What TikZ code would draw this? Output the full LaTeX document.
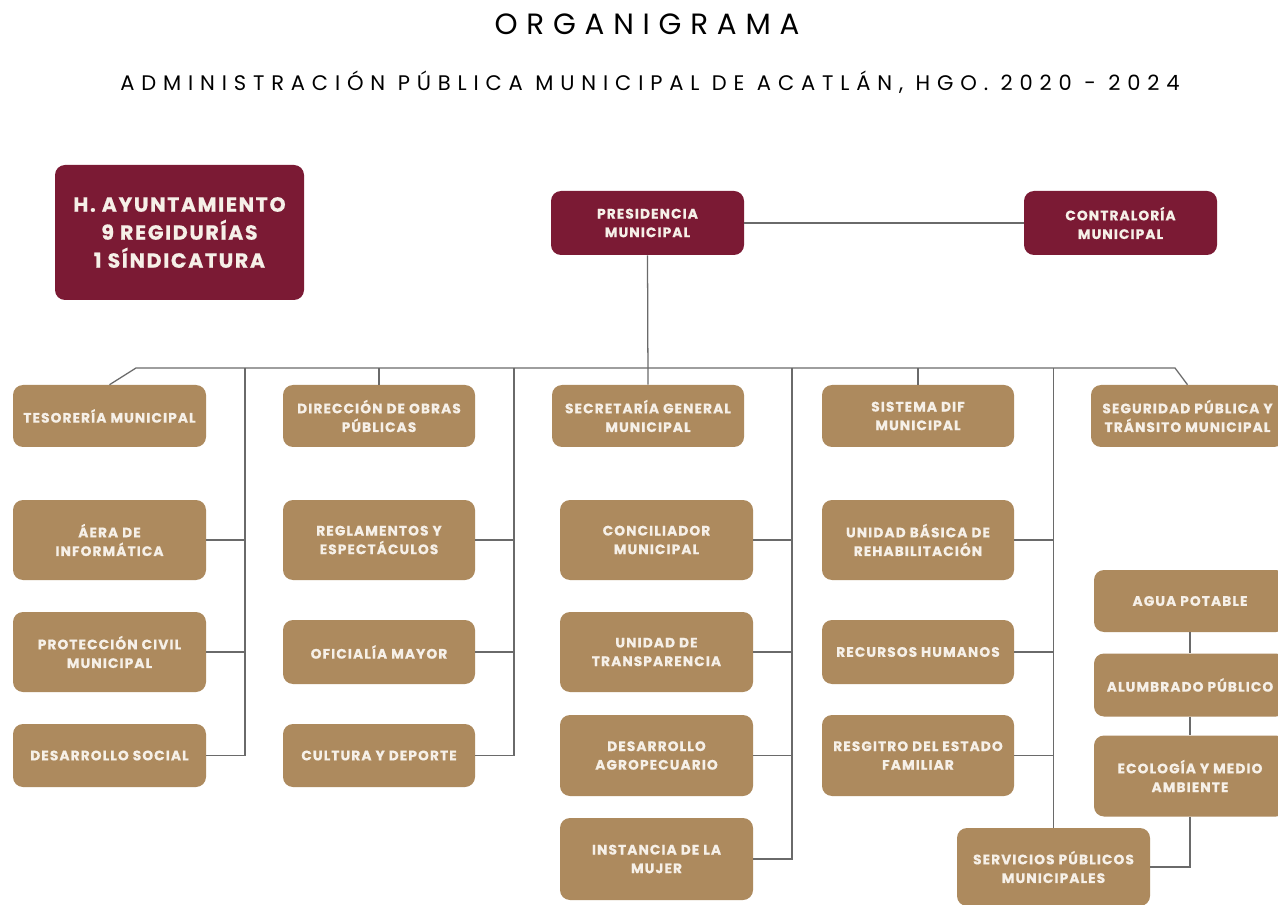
\documentclass[tikz,border=0pt]{standalone}
\usepackage{fontspec}
\setmainfont{Poppins}
\newfontfamily\titlefont{Poppins}[LetterSpace=30]
\newfontfamily\subfont{Poppins}[LetterSpace=32.5]
\newfontfamily\boxfont{Poppins}[LetterSpace=8, BoldFeatures={FakeBold=0.6}]
\definecolor{maroon}{HTML}{7B1A34}
\definecolor{gold}{HTML}{AD8A5E}
\definecolor{cream}{HTML}{F6F0E8}
\definecolor{wire}{HTML}{6A6A6A}
\begin{document}
\begin{tikzpicture}[x=0.75pt,y=-0.75pt,
  unit/.style={rounded corners=7.5pt, align=center, inner sep=0pt, text=cream,
    font=\boxfont\bfseries\fontsize{10.3}{14}\selectfont},
  gbox/.style={unit, fill=gold},
  mbox/.style={unit, fill=maroon},
  sz/.style n args={2}{minimum width=#1*0.75pt, minimum height=#2*0.75pt},
  wire/.style={draw=wire, line width=0.95pt}]
\fill[white] (0,0) rectangle (1278,905);
\useasboundingbox (0,0) rectangle (1278,905);

% titles
\node (title) at (647,24) {\titlefont\fontsize{22}{24}\selectfont ORGANIGRAMA};
\node (subtitle) at (650,82) {\subfont\fontsize{15.8}{18}\selectfont ADMINISTRACIÓN PÚBLICA MUNICIPAL DE ACATLÁN, HGO. 2020 - 2024};

% top level
\node[mbox, sz={249}{135}, font=\boxfont\bfseries\fontsize{15.4}{21}\selectfont] (ayto) at (179.5,232.5) {H. AYUNTAMIENTO\\9 REGIDURÍAS\\1 SÍNDICATURA};
\node[mbox, sz={193}{64}] (pres) at (647.5,223) {PRESIDENCIA\\MUNICIPAL};
\node[mbox, sz={193}{64}] (contra) at (1120.5,223) {CONTRALORÍA\\MUNICIPAL};

% first row
\node[gbox, sz={193}{62}] (teso) at (109.5,416) {TESORERÍA MUNICIPAL};
\node[gbox, sz={192}{62}] (obras) at (379,416) {DIRECCIÓN DE OBRAS\\PÚBLICAS};
\node[gbox, sz={192}{62}] (secre) at (648,416) {SECRETARÍA GENERAL\\MUNICIPAL};
\node[gbox, sz={192}{62}] (dif) at (918,416) {SISTEMA DIF\\MUNICIPAL};
\node[gbox, sz={193}{62}] (segu) at (1187.5,416) {SEGURIDAD PÚBLICA Y\\TRÁNSITO MUNICIPAL};

% column 1
\node[gbox, sz={193}{80}] (area) at (109.5,540) {ÁERA DE\\INFORMÁTICA};
\node[gbox, sz={193}{80}] (prot) at (109.5,652) {PROTECCIÓN CIVIL\\MUNICIPAL};
\node[gbox, sz={193}{63}] (dsoc) at (109.5,755.5) {DESARROLLO SOCIAL};

% column 2
\node[gbox, sz={192}{80}] (regl) at (379,540) {REGLAMENTOS Y\\ESPECTÁCULOS};
\node[gbox, sz={192}{64}] (ofic) at (379,652) {OFICIALÍA MAYOR};
\node[gbox, sz={192}{63}] (cult) at (379,755.5) {CULTURA Y DEPORTE};

% column 3
\node[gbox, sz={193}{80}] (conc) at (656.5,540) {CONCILIADOR\\MUNICIPAL};
\node[gbox, sz={193}{80}] (transp) at (656.5,652) {UNIDAD DE\\TRANSPARENCIA};
\node[gbox, sz={193}{81}] (agro) at (656.5,755.5) {DESARROLLO\\AGROPECUARIO};
\node[gbox, sz={193}{82}] (mujer) at (656.5,859) {INSTANCIA DE LA\\MUJER};

% column 4
\node[gbox, sz={192}{80}] (ubr) at (918,540) {UNIDAD BÁSICA DE\\REHABILITACIÓN};
\node[gbox, sz={192}{64}] (rh) at (918,652) {RECURSOS HUMANOS};
\node[gbox, sz={192}{81}] (reg) at (918,755.5) {RESGITRO DEL ESTADO\\FAMILIAR};

% column 5
\node[gbox, sz={193}{78}] (serv) at (1053.5,867) {SERVICIOS PÚBLICOS\\MUNICIPALES};
\node[gbox, sz={192}{62}] (agua) at (1190,601) {AGUA POTABLE};
\node[gbox, sz={192}{63}] (alum) at (1190,685) {ALUMBRADO PÚBLICO};
\node[gbox, sz={192}{81}] (eco) at (1190,776) {ECOLOGÍA Y MEDIO\\AMBIENTE};

% bus coordinates
\coordinate (busL) at (136,368);
\coordinate (busR) at (1175,368);
\coordinate (s1) at (245,368);
\coordinate (s2) at (514,368);
\coordinate (s3) at (792,368);

% connectors
\draw[wire] (pres.east) -- (contra.west);
\draw[wire] (pres.south) -- (secre.north);
\draw[wire] (teso.north) -- (busL) -- (busR) -- (segu.north);
\draw[wire] (obras.north) -- (obras.north |- busL);
\draw[wire] (dif.north) -- (dif.north |- busL);
\draw[wire] (serv.north) -- (serv.north |- busL);

\draw[wire] (s1) |- (dsoc.east);
\draw[wire] (area.east) -- (area.east -| s1);
\draw[wire] (prot.east) -- (prot.east -| s1);

\draw[wire] (s2) |- (cult.east);
\draw[wire] (regl.east) -- (regl.east -| s2);
\draw[wire] (ofic.east) -- (ofic.east -| s2);

\draw[wire] (s3) |- (mujer.east);
\draw[wire] (conc.east) -- (conc.east -| s3);
\draw[wire] (transp.east) -- (transp.east -| s3);
\draw[wire] (agro.east) -- (agro.east -| s3);

\draw[wire] (ubr.east) -- (ubr.east -| serv.north);
\draw[wire] (rh.east) -- (rh.east -| serv.north);
\draw[wire] (reg.east) -- (reg.east -| serv.north);

\draw[wire] (agua.south) -- (alum.north);
\draw[wire] (alum.south) -- (eco.north);
\draw[wire] (eco.south) |- (serv.east);
\end{tikzpicture}
\end{document}
